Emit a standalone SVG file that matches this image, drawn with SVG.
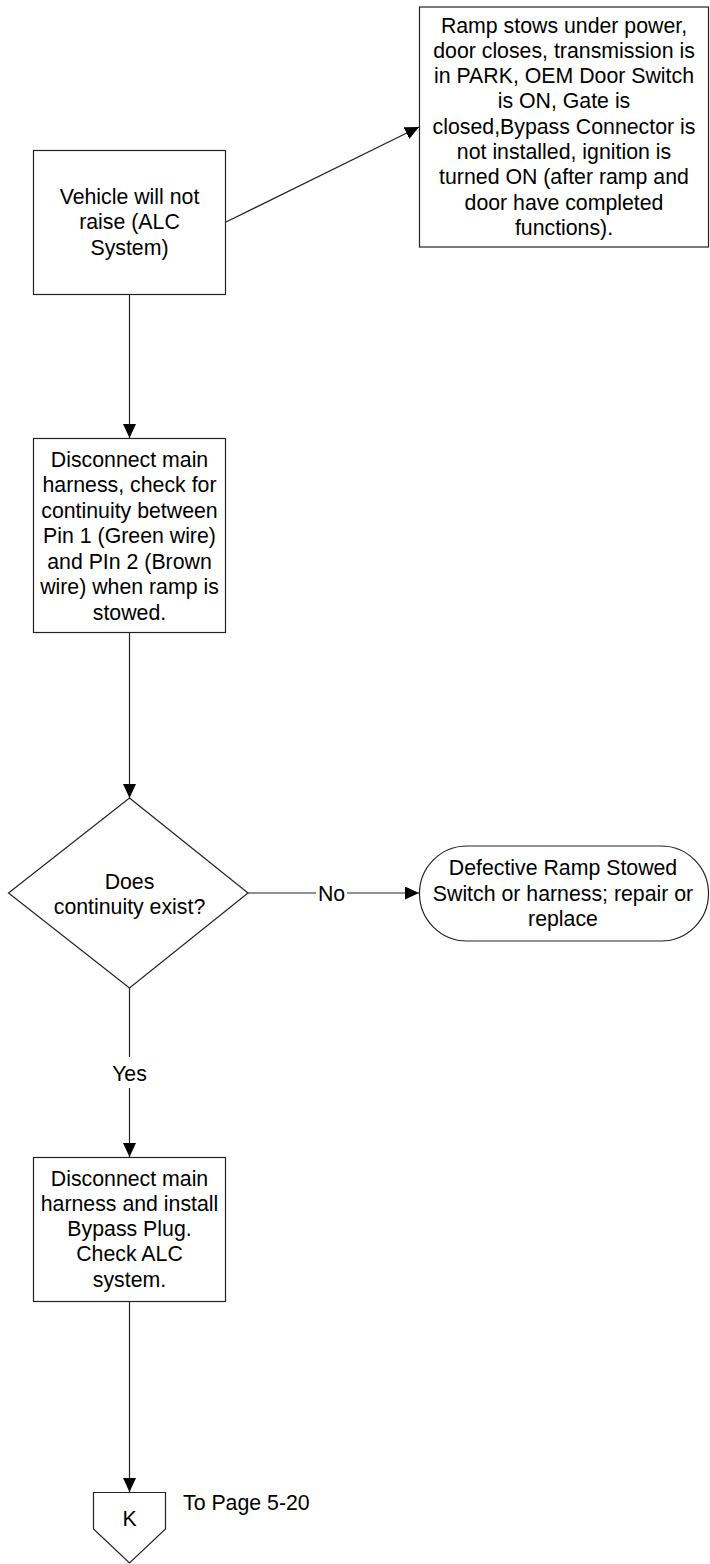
<svg xmlns="http://www.w3.org/2000/svg" width="710" height="1564" viewBox="0 0 710 1564">
<defs>
<style>
.shape{fill:#fff;stroke:#222;stroke-width:1.2}
.conn{fill:none;stroke:#222;stroke-width:1.2}
text{font-family:"Liberation Sans",Arial,sans-serif;font-size:21.3px;fill:#000;text-anchor:middle}
</style>
<marker id="arr" markerUnits="userSpaceOnUse" markerWidth="15" markerHeight="14" refX="14" refY="6.5" orient="auto">
<path d="M0,0 L14,6.5 L0,13 z" fill="#000"/>
</marker>
</defs>
<rect width="710" height="1564" fill="#fff"/>
<g id="connectors">
<line class="conn" x1="226" y1="222" x2="419" y2="127" marker-end="url(#arr)"/>
<line class="conn" x1="129.5" y1="294" x2="129.5" y2="438" marker-end="url(#arr)"/>
<line class="conn" x1="129.5" y1="632" x2="129.5" y2="798" marker-end="url(#arr)"/>
<line class="conn" x1="248" y1="893" x2="316" y2="893"/>
<line class="conn" x1="347" y1="893" x2="419" y2="893" marker-end="url(#arr)"/>
<text x="331.5" y="900.5">No</text>
<line class="conn" x1="129.5" y1="988" x2="129.5" y2="1057"/>
<line class="conn" x1="129.5" y1="1088" x2="129.5" y2="1157" marker-end="url(#arr)"/>
<text x="129.5" y="1080.5">Yes</text>
<line class="conn" x1="129.5" y1="1301" x2="129.5" y2="1492" marker-end="url(#arr)"/>
</g>
<g id="vehicle">
<rect class="shape" x="33.5" y="150.5" width="192" height="144"/>
<text x="129.5" y="204">Vehicle will not</text>
<text x="129.5" y="229.3">raise (ALC</text>
<text x="129.5" y="254.6">System)</text>
</g>
<g id="conditions">
<rect class="shape" x="419.5" y="7" width="289" height="240"/>
<text x="564" y="32.5">Ramp stows under power,</text>
<text x="564" y="57.8">door closes, transmission is</text>
<text x="564" y="83.1">in PARK, OEM Door Switch</text>
<text x="564" y="108.4">is ON, Gate is</text>
<text x="564" y="133.7">closed,Bypass Connector is</text>
<text x="564" y="159">not installed, ignition is</text>
<text x="564" y="184.3">turned ON (after ramp and</text>
<text x="564" y="209.6">door have completed</text>
<text x="564" y="234.9">functions).</text>
</g>
<g id="check-continuity">
<rect class="shape" x="33.5" y="438.5" width="192" height="194"/>
<text x="129.5" y="466.5">Disconnect main</text>
<text x="129.5" y="492">harness, check for</text>
<text x="129.5" y="517.5">continuity between</text>
<text x="129.5" y="543">Pin 1 (Green wire)</text>
<text x="129.5" y="568.5">and PIn 2 (Brown</text>
<text x="129.5" y="594">wire) when ramp is</text>
<text x="129.5" y="619.5">stowed.</text>
</g>
<g id="decision">
<polygon class="shape" points="129.5,798 248,893 129.5,988 8.5,893"/>
<text x="129.5" y="888.5">Does</text>
<text x="129.5" y="913.5">continuity exist?</text>
</g>
<g id="defective">
<rect class="shape" x="419.5" y="846" width="289" height="95" rx="47.5" ry="47.5"/>
<text x="563" y="875">Defective Ramp Stowed</text>
<text x="563" y="900.5">Switch or harness; repair or</text>
<text x="563" y="926">replace</text>
</g>
<g id="bypass">
<rect class="shape" x="33.5" y="1157.5" width="192" height="144"/>
<text x="129.5" y="1185.5">Disconnect main</text>
<text x="129.5" y="1210.8">harness and install</text>
<text x="129.5" y="1236.1">Bypass Plug.</text>
<text x="129.5" y="1261.4">Check ALC</text>
<text x="129.5" y="1286.7">system.</text>
</g>
<g id="offpage-k">
<polygon class="shape" points="93.5,1492.5 165.5,1492.5 165.5,1529 129.5,1563 93.5,1529"/>
<text x="129.5" y="1525.5">K</text>
<text x="183" y="1509.5" style="text-anchor:start">To Page 5-20</text>
</g>
</svg>
